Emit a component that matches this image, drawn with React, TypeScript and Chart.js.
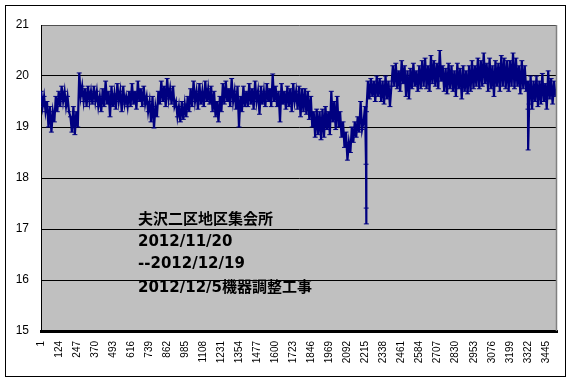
import React, { useEffect, useRef } from "react";
import { Chart, registerables } from "chart.js";

Chart.register(...registerables);

// sample spacing (record numbers) between the typed values
const STEP = 10;

// values, one every STEP records, starting at record 1
const seg0 = [19.7,19.4,19.6,19.3,19.5,19.0,19.4,18.9,19.3,19.1,19.6,19.3,19.7,19.4,19.8,19.5,19.7,19.4,19.6,19.3];
const seg1 = [19.2,18.9,19.4,18.85,19.3,19.0,20.06,19.6,19.8,19.5,19.75,19.4,19.8,19.5,19.7,19.45,19.8,19.5,19.7,19.4];
const seg2 = [19.6,19.3,19.75,19.4,19.9,19.45,19.7,19.2,19.8,19.4,19.65,19.35,19.85,19.5,19.7,19.3,19.8,19.45,19.6,19.4];
const seg3 = [19.7,19.4,19.85,19.45,19.7,19.35,19.9,19.5,19.75,19.4,19.8,19.45,19.6,19.3,19.5,19.1,19.6,18.98,19.4,19.2];
const seg4 = [19.7,19.45,19.9,19.5,19.8,19.4,19.95,19.55,19.75,19.45,19.8,19.4,19.5,19.2,19.4,19.1,19.5,19.15,19.45,19.2];
const seg5 = [19.6,19.3,19.75,19.4,19.9,19.5,19.7,19.35,19.85,19.45,19.7,19.4,19.9,19.5,19.75,19.45,19.8,19.3,19.7,19.2];
const seg6 = [19.5,19.1,19.6,19.3,19.85,19.45,19.9,19.5,19.75,19.4,19.95,19.5,19.7,19.35,19.8,19.0,19.6,19.3,19.8,19.4];
const seg7 = [19.7,19.4,19.85,19.45,19.75,19.35,19.9,19.5,19.7,19.25,19.8,19.45,19.7,19.4,19.85,19.5,19.75,19.4,20.04,19.5];
const seg8 = [19.8,19.4,19.7,19.1,19.85,19.45,19.7,19.35,19.8,19.4,19.75,19.3,19.85,19.5,19.7,19.35,19.8,19.2,19.75,19.3];
const seg9 = [19.75,19.25,19.7,19.15,19.6,19.0,19.3,18.8,19.35,18.85,19.3,18.75,19.35,18.8,19.4,18.95,19.3,18.85,19.7,19.1];
const seg10 = [19.5,18.95,19.6,19.0,19.3,18.8,19.1,18.6,18.9,18.35,18.7,18.5,19.0,18.7,19.1,18.8,19.2,18.9,19.5,18.95];
const seg11 = [19.1,19.4,19.3,19.9,19.55,19.95,19.6,19.9,19.5,20.0,19.6,19.95,19.5,19.9,19.45,20.0,19.55,19.9,19.4,19.8];
const seg12 = [20.2,19.8,20.25,19.75,20.1,19.7,20.3,19.85,20.2,19.6,20.1,19.55,20.15,19.75,20.25,19.8,20.1,19.7,20.2,19.75];
const seg13 = [20.3,19.8,20.35,19.75,20.2,19.7,20.4,19.85,20.3,19.8,20.25,19.75,20.5,19.9,20.2,19.7,20.15,19.65,20.25,19.75];
const seg14 = [20.2,19.7,20.1,19.6,20.25,19.75,20.15,19.55,20.2,19.7,20.1,19.65,20.2,19.7,20.3,19.75,20.2,19.8,20.35,19.75];
const seg15 = [20.3,19.8,20.45,19.85,20.25,19.7,20.35,19.75,20.2,19.6,20.3,19.8,20.25,19.7,20.4,19.8,20.35,19.75,20.3,19.7];
const seg16 = [20.3,19.8,20.45,19.75,20.35,19.8,20.2,19.65,20.3,19.75,20.2,19.7,19.9,19.45,20.0,19.35,19.9,19.5,20.0,19.4];
const seg17 = [19.9,19.45,20.05,19.5,19.85,19.35,20.1,19.55,19.95,19.45,19.9,19.6];

// isolated drops (record number, value)
const dropRecords = [2218, 2219, 2220, 3323, 3324];
const dropValues = [18.27, 17.41, 17.1, 19.35, 18.55];

// category tick labels shown on the x axis
const xTickLabels = [1,124,247,370,493,616,739,862,985,1108,1231,1354,1477,1600,1723,1846,1969,2092,2215,2338,2461,2584,2707,2830,2953,3076,3199,3322,3445];
const yMin = 15;
const yMax = 21;
const recordCount = 3521;

const noteLines = ["夫沢二区地区集会所", "2012/11/20", "--2012/12/19", "2012/12/5機器調整工事"];

const values = [
  ...seg0, ...seg1, ...seg2, ...seg3, ...seg4, ...seg5, ...seg6, ...seg7, ...seg8,
  ...seg9, ...seg10, ...seg11, ...seg12, ...seg13, ...seg14, ...seg15, ...seg16, ...seg17,
];

export default function App() {
  const ref = useRef<HTMLCanvasElement | null>(null);

  useEffect(() => {
    const canvas = ref.current;
    if (!canvas) return;
    const pts = values.map((v, i) => ({ x: 1 + i * STEP, y: v }));
    dropRecords.forEach((r, i) => pts.push({ x: r, y: dropValues[i] }));
    pts.sort((a, b) => a.x - b.x);

    const framePlugin = {
      id: "frame",
      beforeDraw(chart: any) {
        const { ctx, chartArea } = chart;
        ctx.save();
        ctx.fillStyle = "#ffffff";
        ctx.fillRect(0, 0, chart.width, chart.height);
        ctx.strokeStyle = "#000000";
        ctx.lineWidth = 1;
        ctx.strokeRect(5.5, 5.5, 560, 371);
        ctx.fillStyle = "#c0c0c0";
        ctx.fillRect(chartArea.left, chartArea.top, chartArea.right - chartArea.left, chartArea.bottom - chartArea.top);
        ctx.restore();
      },
      afterDraw(chart: any) {
        const { ctx, chartArea } = chart;
        ctx.save();
        ctx.strokeStyle = "#808080";
        ctx.lineWidth = 1.5;
        ctx.beginPath();
        ctx.moveTo(chartArea.right - 0.5, chartArea.top);
        ctx.lineTo(chartArea.right - 0.5, chartArea.bottom);
        ctx.stroke();
        ctx.fillStyle = "#000000";
        ctx.font = 'bold 15px "DejaVu Sans", "Noto Sans CJK JP", sans-serif';
        ctx.textBaseline = "middle";
        ctx.textAlign = "left";
        const ys = [220, 242, 264, 288];
        noteLines.forEach((t, i) => ctx.fillText(t, chartArea.left + 97, ys[i]));
        ctx.restore();
      },
    };

    const chart = new Chart(canvas, {
      type: "line",
      data: {
        datasets: [
          {
            data: pts,
            borderColor: "#000080",
            borderWidth: 2.2,
            pointStyle: "line",
            pointRadius: 2.5,
            pointBorderColor: "#000080",
            pointBorderWidth: 1,
            pointHoverRadius: 0,
            fill: false,
            tension: 0,
          },
        ],
      },
      options: {
        responsive: false,
        animation: false,
        events: [],
        layout: { padding: { left: 0, top: 25, right: 15, bottom: 0 } },
        plugins: { legend: { display: false }, tooltip: { enabled: false } },
        scales: {
          x: {
            type: "linear",
            min: 0,
            max: recordCount,
            afterBuildTicks: (scale: any) => {
              scale.ticks = xTickLabels.map((v) => ({ value: v }));
            },
            afterFit: (scale: any) => {
              scale.height = 51;
            },
            grid: { display: false, drawTicks: false },
            border: { display: true, color: "#000000", width: 3 },
            ticks: {
              autoSkip: false,
              minRotation: 90,
              maxRotation: 90,
              padding: 10,
              color: "#000000",
              font: { family: '"Liberation Sans", Arial, sans-serif', size: 10 },
              callback: (v: any) => String(v),
            },
          },
          y: {
            min: yMin,
            max: yMax,
            afterFit: (scale: any) => {
              scale.width = 41;
            },
            grid: {
              drawTicks: false,
              color: (c: any) => (c.tick && c.tick.value === yMax ? "#505050" : c.tick && c.tick.value === yMin ? "rgba(0,0,0,0)" : "#000000"),
              lineWidth: 1,
            },
            border: { display: true, color: "#000000", width: 1 },
            ticks: {
              stepSize: 1,
              padding: 12,
              color: "#000000",
              font: { family: '"Liberation Sans", Arial, sans-serif', size: 12 },
            },
          },
        },
      },
      plugins: [framePlugin],
    } as any);
    return () => chart.destroy();
  }, []);

  return (
    <div style={{ position: "fixed", left: 0, top: 0, width: 572, height: 382 }}>
      <canvas ref={ref} width={572} height={382} style={{ display: "block" }} />
    </div>
  );
}
